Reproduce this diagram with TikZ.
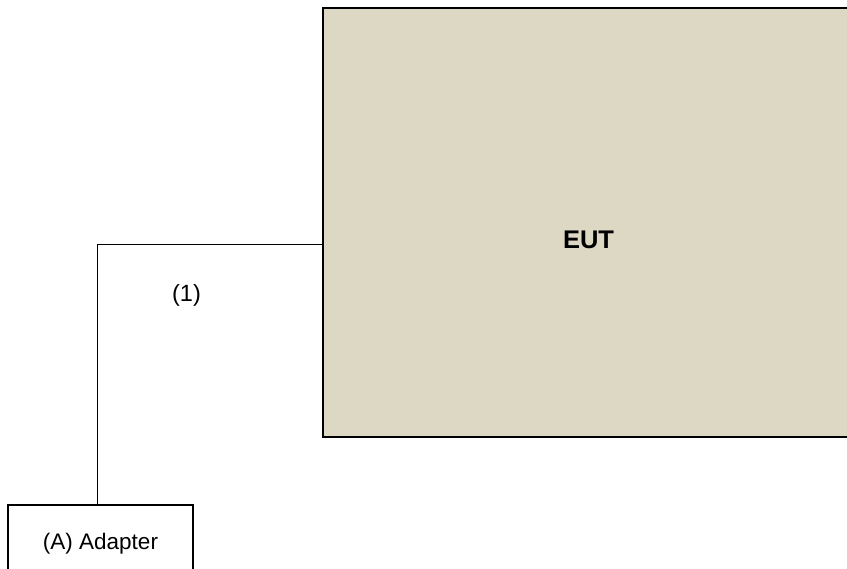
\documentclass[tikz,border=0pt]{standalone}
\usepackage{fontspec}
\setmainfont{Liberation Sans}
\definecolor{eutfill}{RGB}{221,216,195}

\tikzset{
  eutbox/.style={draw=black, line width=2pt, fill=eutfill, inner sep=0pt},
  devbox/.style={draw=black, line width=2pt, fill=white, inner sep=0pt},
  cable/.style={draw=black, line width=1pt}
}

\begin{document}
\begin{tikzpicture}[x=1pt, y=-1pt]
  \useasboundingbox (0,0) rectangle (847,569);

  % Draw the EUT box (right side runs off the page)
  \node[eutbox, minimum width=530pt, minimum height=429pt] (eut) at (588,222.5) {};
  \node[font=\fontsize{25.5}{30}\selectfont\bfseries] (euttitle) at (588.5,240) {EUT};

  % Draw the adapter box (bottom runs off the page)
  \node[devbox, minimum width=185pt, minimum height=77pt,
        font=\fontsize{22.5}{27}\selectfont] (adapter) at (100.5,543.5) {(A) Adapter};

  % Draw the cable and label it
  \coordinate (port) at (323,245);
  \draw[cable] (port) -| ([xshift=-3.5pt]adapter.north);
  \node[font=\fontsize{23.5}{28}\selectfont] (cablelabel) at (186.5,295) {(1)};

\end{tikzpicture}
\end{document}
